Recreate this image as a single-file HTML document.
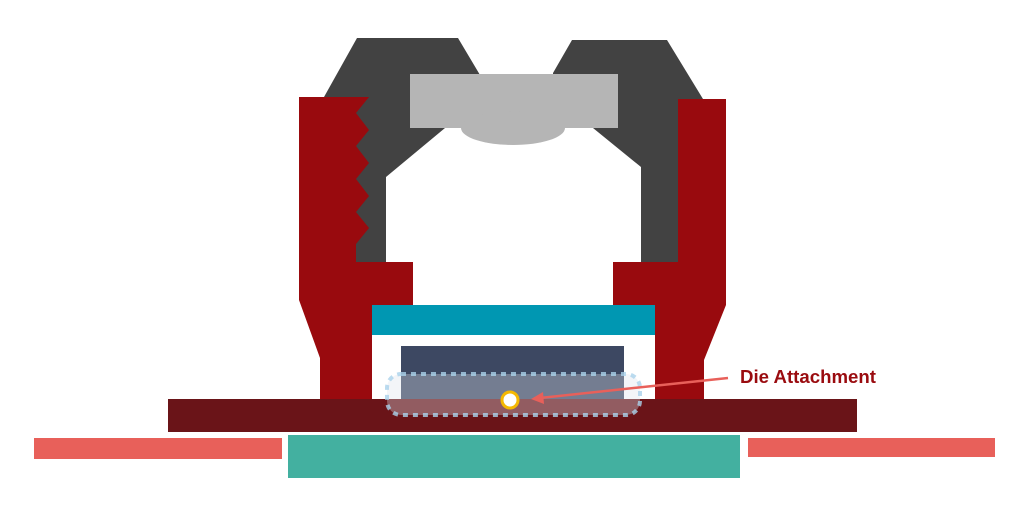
<!DOCTYPE html>
<html><head><style>body{margin:0;background:#fff}svg{display:block}</style></head><body>
<svg width="1029" height="511" viewBox="0 0 1029 511" xmlns="http://www.w3.org/2000/svg">
<polygon fill="#424242" points="357,38 458,38 480,75 480,128 445,128 386,177 386,262 356,262 356,97 324,97"/>
<polygon fill="#424242" points="572,40 667,40 703,99 678,99 678,262 641,262 641,167 593,128 553,128 553,73"/>
<rect x="410" y="74" width="208" height="54" fill="#b5b5b5"/>
<ellipse cx="513" cy="128" rx="52" ry="17" fill="#b5b5b5"/>
<polygon fill="#990a0e" points="299,97 369,97 356,113 369,130 356,146 369,163 356,179 369,196 356,212 369,228 356,244 356,262 413,262 413,305 372,305 372,399 320,399 320,358 299,300"/>
<polygon fill="#990a0e" points="678,99 726,99 726,305 704,360 704,399 655,399 655,305 613,305 613,262 678,262"/>
<rect x="372" y="305" width="283" height="30" fill="#0097b2"/>
<rect x="401" y="346" width="223" height="54" fill="#3d4862"/>
<rect x="168" y="399" width="689" height="33" fill="#6a1418"/>
<rect x="288" y="435" width="452" height="43" fill="#43b0a0"/>
<rect x="34" y="438" width="248" height="21" fill="#e8605a"/>
<rect x="748" y="438" width="247" height="19" fill="#e8605a"/>
<rect x="387" y="374" width="253" height="41" rx="14" fill="rgba(220,225,235,0.35)" stroke="rgba(170,210,235,0.8)" stroke-width="4" stroke-dasharray="5,5"/>
<line x1="728" y1="378" x2="540" y2="398" stroke="#e8605a" stroke-width="2.5"/>
<polygon fill="#e8605a" points="531,399 543,392 544,404"/>
<circle cx="510" cy="400" r="8" fill="#fff" stroke="#f5b800" stroke-width="3"/>
<text x="740" y="383" font-family="Liberation Sans, sans-serif" font-weight="bold" font-size="18" textLength="136" lengthAdjust="spacingAndGlyphs" fill="#9a0b0f">Die Attachment</text>
</svg>
</body></html>
